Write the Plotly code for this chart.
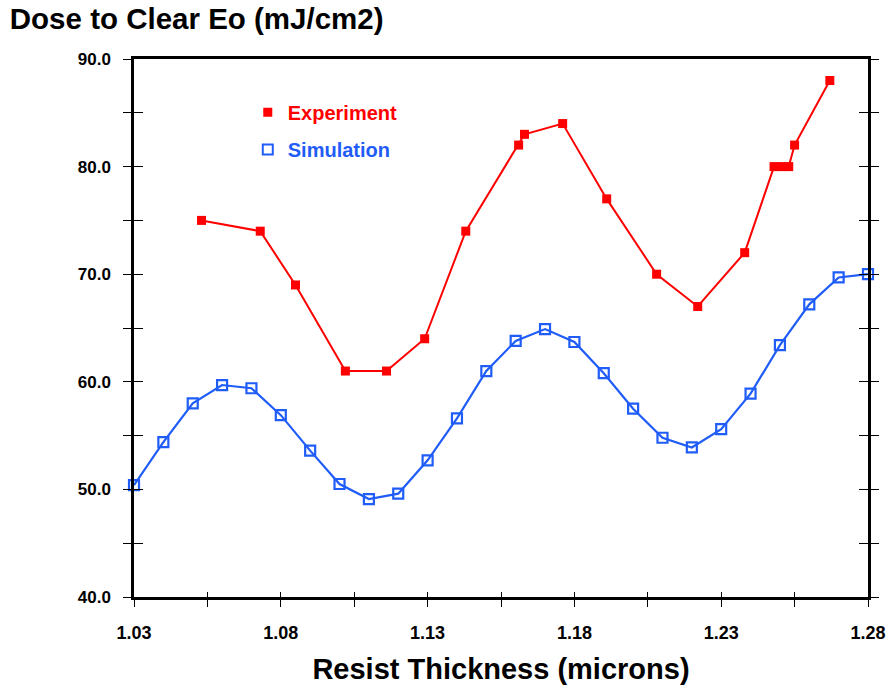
import plotly.graph_objects as go

# ---- data ----
exp_x = [1.053, 1.073, 1.085, 1.102, 1.116, 1.129, 1.143, 1.161, 1.163, 1.176,
         1.191, 1.208, 1.222, 1.238, 1.248, 1.2505, 1.253, 1.255, 1.267]
exp_y = [75, 74, 69, 61, 61, 64, 74, 82, 83, 84,
         77, 70, 67, 72, 80, 80, 80, 82, 88]

sim_x = [1.03, 1.04, 1.05, 1.06, 1.07, 1.08, 1.09, 1.10, 1.11, 1.12, 1.13, 1.14, 1.15,
         1.16, 1.17, 1.18, 1.19, 1.20, 1.21, 1.22, 1.23, 1.24, 1.25, 1.26, 1.27, 1.28]
sim_y = [50.4, 54.4, 58.0, 59.7, 59.4, 56.9, 53.6, 50.5, 49.1, 49.6, 52.7, 56.6, 61.0,
         63.8, 64.9, 63.7, 60.8, 57.5, 54.8, 53.9, 55.6, 58.9, 63.4, 67.2, 69.7, 70.0]

x_tickvals = [1.03, 1.055, 1.08, 1.105, 1.13, 1.155, 1.18, 1.205, 1.23, 1.255, 1.28]
x_ticktext = ["1.03", "", "1.08", "", "1.13", "", "1.18", "", "1.23", "", "1.28"]
y_tickvals = [40, 45, 50, 55, 60, 65, 70, 75, 80, 85, 90]
y_ticktext = ["40.0", "", "50.0", "", "60.0", "", "70.0", "", "80.0", "", "90.0"]

title_text = "Dose to Clear Eo (mJ/cm2)"
xtitle_text = "Resist Thickness (microns)"

RED = "#ff0000"
BLUE = "#1f5cf8"
FONT = "Liberation Sans, Arial, sans-serif"

fig = go.Figure()

fig.add_trace(go.Scatter(
    x=exp_x, y=exp_y, mode="lines+markers", showlegend=False,
    line=dict(color=RED, width=2),
    marker=dict(symbol="square", size=9, color=RED, line=dict(width=0)),
    xaxis="x", yaxis="y"))

fig.add_trace(go.Scatter(
    x=sim_x, y=sim_y, mode="lines+markers", showlegend=False,
    line=dict(color=BLUE, width=2.2),
    marker=dict(symbol="square-open", size=10, color=BLUE, line=dict(width=2.2, color=BLUE)),
    cliponaxis=False,
    xaxis="x2", yaxis="y2"))

# legend entries
fig.add_trace(go.Scatter(
    x=[None], y=[None], mode="markers", legend="legend",
    name="<b><span style='color:%s'>Experiment</span></b>" % RED,
    marker=dict(symbol="square", size=9, color=RED)))
fig.add_trace(go.Scatter(
    x=[None], y=[None], mode="markers", legend="legend2",
    name="<b><span style='color:%s'>Simulation</span></b>" % BLUE,
    marker=dict(symbol="square-open", size=10, color=BLUE, line=dict(width=2, color=BLUE))))

xr = [1.03, 1.28]
yr = [40, 90]

fig.update_layout(
    width=891, height=688,
    paper_bgcolor="white", plot_bgcolor="white",
    margin=dict(l=134, r=23, t=59, b=91),
    font=dict(family=FONT, color="black"),
    title=dict(text="<b>%s</b>" % title_text, x=0.011, xanchor="left",
               y=0.973, yanchor="middle", font=dict(size=29.5, family=FONT, color="black")),
    xaxis=dict(range=xr, showgrid=False, zeroline=False, showline=True, linewidth=2.5,
               linecolor="black", mirror=True, ticks="outside", ticklen=7, tickwidth=1,
               tickcolor="black", tickvals=x_tickvals, ticktext=x_ticktext,
               tickfont=dict(size=18, family=FONT, color="black", weight="bold"),
               ticklabelstandoff=11, automargin=False,
               title=dict(text="<b>%s</b>" % xtitle_text, font=dict(size=29, family=FONT, color="black"),
                          standoff=17)),
    yaxis=dict(range=yr, showgrid=False, zeroline=False, showline=True, linewidth=2.5,
               linecolor="black", mirror="ticks", ticks="outside", ticklen=8, tickwidth=1,
               tickcolor="black", tickvals=y_tickvals, ticktext=y_ticktext,
               tickfont=dict(size=17, family=FONT, color="black", weight="bold"),
               ticklabelstandoff=9, automargin=False),
    xaxis2=dict(range=xr, overlaying="x", anchor="y2", side="bottom", showgrid=False,
                zeroline=False, showline=False, ticks="inside", ticklen=5, tickwidth=1,
                tickcolor="black", tickvals=x_tickvals, showticklabels=False, automargin=False),
    yaxis2=dict(range=yr, overlaying="y", anchor="x2", side="left", showgrid=False,
                zeroline=False, showline=False, ticks="inside", ticklen=9, tickwidth=1,
                mirror="ticks", tickcolor="black", tickvals=y_tickvals, showticklabels=False,
                automargin=False),
    legend=dict(x=0.155, y=0.901, xanchor="left", yanchor="middle", bgcolor="rgba(0,0,0,0)",
                borderwidth=0, font=dict(size=20, family=FONT), itemwidth=30),
    legend2=dict(x=0.155, y=0.832, xanchor="left", yanchor="middle", bgcolor="rgba(0,0,0,0)",
                 borderwidth=0, font=dict(size=20, family=FONT), itemwidth=30),
)

fig.write_html("out.html", config={"displayModeBar": False},
               post_script="document.body.style.margin='0';document.body.style.overflow='hidden';")
